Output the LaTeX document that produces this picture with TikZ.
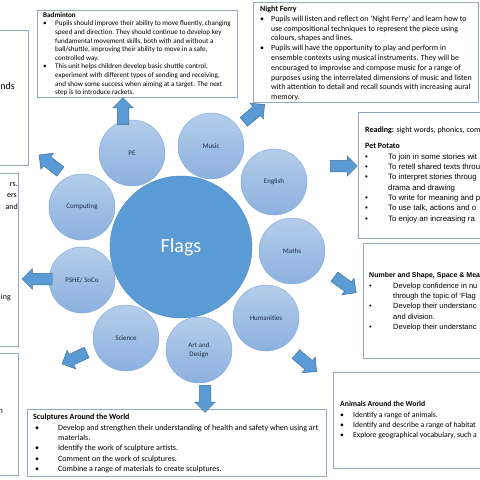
\documentclass[tikz,border=0pt]{standalone}
\usepackage{fontspec}
\setmainfont{Carlito}
\newfontfamily\arialfont{Liberation Sans}
\usetikzlibrary{shapes,arrows,positioning}
\definecolor{boxline}{HTML}{97A8BC}
\definecolor{hubfill}{HTML}{5B9BD5}
\definecolor{hubline}{HTML}{4A88C6}
\definecolor{topictop}{HTML}{B4CDEB}
\definecolor{topicbot}{HTML}{8CB0DE}
\definecolor{topicline}{HTML}{7EA5D6}
\definecolor{topictext}{HTML}{1C2B48}
\definecolor{arrfill}{HTML}{5B9BD5}
\definecolor{arrline}{HTML}{41719C}
\newcommand{\bul}{\textbullet}

\begin{document}
\begin{tikzpicture}[x=1pt, y=-1pt,
    hub/.style={circle, draw=hubline, fill=hubfill, minimum size=142pt, inner sep=0pt, font=\fontsize{20}{22}\selectfont, text=white},
    topic/.style={circle, draw=topicline, top color=topictop, bottom color=topicbot, minimum size=66pt, inner sep=0pt, align=center, font=\fontsize{7}{8.5}\selectfont, text=topictext},
    panel/.style={rectangle, draw=boxline, line width=0.9pt, fill=white, anchor=north west, inner sep=0pt},
    txt/.style={anchor=north west, inner sep=0pt, align=left},
    cut/.style={inner sep=0pt, font=\fontsize{8}{9}\selectfont},
    blockarr/.style={single arrow, draw=arrline, fill=arrfill, line width=0.5pt, minimum height=27pt, inner sep=5.5pt, single arrow head extend=4.5pt, single arrow tip angle=90}
]
\useasboundingbox (0,0) rectangle (480,480);
\fill[white] (0,0) rectangle (480,480);
\clip (0,0) rectangle (480,480);

% Left boxes
\node[panel, minimum width=48pt, minimum height=135pt] (leftA) at (-20,30) {};
\node[panel, minimum width=38pt, minimum height=173pt] (leftB) at (-20,173) {};
\node[panel, minimum width=38pt, minimum height=122pt] (leftC) at (-20,353) {};
\node[cut, anchor=east, font=\fontsize{10}{12}\selectfont] (ndsTxt) at (15,86) {nds};
\node[cut, anchor=east] (rsTxt) at (18,185) {rs.};
\node[cut, anchor=east] (ersTxt) at (17,196) {ers};
\node[cut, anchor=east] (andTxt) at (18,207) {and};
\node[cut, anchor=east] (ingTxt) at (11,297) {ing};
\node[cut, anchor=east] (nTxt) at (3,412) {n};

% Badminton
\node[panel, minimum width=200pt, minimum height=87pt] (badBox) at (37,10) {};
\node[txt, font=\fontsize{7.1}{8.6}\selectfont] (badTxt) at (43,11) {%
\begin{tabular}{@{}p{12pt}@{}l@{}}
\multicolumn{2}{@{}l@{}}{\bfseries Badminton}\\
\bul & Pupils should improve their ability to move fluently, changing\\
 & speed and direction. They should continue to develop key\\
 & fundamental movement skills, both with and without a\\
 & ball/shuttle, improving their ability to move in a safe,\\
 & controlled way.\\
\bul & This unit helps children develop basic shuttle control,\\
 & experiment with different types of sending and receiving,\\
 & and show some success when aiming at a target. The next\\
 & step is to introduce rackets.
\end{tabular}};

% Night Ferry
\node[panel, minimum width=225pt, minimum height=100pt] (ferryBox) at (253,2) {};
\node[txt, font=\fontsize{7.9}{9.8}\selectfont] (ferryTxt) at (260,4.5) {%
\begin{tabular}{@{}p{11pt}@{}l@{}}
\multicolumn{2}{@{}l@{}}{\bfseries Night Ferry}\\
\bul & Pupils will listen and reflect on ‘Night Ferry’ and learn how to\\
 & use compositional techniques to represent the piece using\\
 & colours, shapes and lines.\\
\bul & Pupils will have the opportunity to play and perform in\\
 & ensemble contexts using musical instruments. They will be\\
 & encouraged to improvise and compose music for a range of\\
 & purposes using the interrelated dimensions of music and listen\\
 & with attention to detail and recall sounds with increasing aural\\
 & memory.
\end{tabular}};

% English
\node[panel, minimum width=140pt, minimum height=126pt] (readBox) at (358,112) {};
\node[cut, anchor=west, font=\fontsize{8}{9}\selectfont] (readTxt) at (365,130) {\textbf{Reading:} sight words, phonics, com};
\node[txt, font=\arialfont\fontsize{7.8}{10.3}\selectfont] (potatoTxt) at (365,141.5) {%
\begin{tabular}{@{}p{23pt}@{}l@{}}
\multicolumn{2}{@{}l@{}}{\rmfamily\fontsize{8}{10.3}\selectfont\bfseries Pet Potato}\\
\bul & To join in some stories wit\\
\bul & To retell shared texts throu\\
\bul & To interpret stories throug\\
 & drama and drawing\\
\bul & To write for meaning and p\\
\bul & To use talk, actions and o\\
\bul & To enjoy an increasing ra
\end{tabular}};

% Maths
\node[panel, minimum width=135pt, minimum height=115pt] (mathsBox) at (363,243) {};
\node[txt, font=\arialfont\fontsize{7.5}{10.3}\selectfont] (mathsTxt) at (369,270.5) {%
\begin{tabular}{@{}p{24pt}@{}l@{}}
\multicolumn{2}{@{}l@{}}{\fontsize{7}{10.3}\selectfont\bfseries Number and Shape, Space \& Mea}\\
\bul & Develop confidence in nu\\
 & through the topic of ‘Flag\\
\bul & Develop their understanc\\
 & and division.\\
\bul & Develop their understanc
\end{tabular}};

% Humanities
\node[panel, minimum width=165pt, minimum height=96pt] (animalBox) at (333,372) {};
\node[txt, font=\fontsize{7.7}{10.3}\selectfont] (animalTxt) at (340,399.5) {%
\begin{tabular}{@{}p{13pt}@{}l@{}}
\multicolumn{2}{@{}l@{}}{\bfseries Animals Around the World}\\
\bul & Identify a range of animals.\\
\bul & Identify and describe a range of habitat\\
\bul & Explore geographical vocabulary, such a
\end{tabular}};

% Art and Design
\node[panel, minimum width=299pt, minimum height=67pt] (sculptBox) at (27,409) {};
\node[txt, font=\fontsize{8}{10.3}\selectfont] (sculptTxt) at (33,412.5) {%
\begin{tabular}{@{}p{25pt}@{}l@{}}
\multicolumn{2}{@{}l@{}}{\bfseries Sculptures Around the World}\\
\hspace*{2pt}\bul & Develop and strengthen their understanding of health and safety when using art\\
 & materials.\\
\hspace*{2pt}\bul & Identify the work of sculpture artists.\\
\hspace*{2pt}\bul & Comment on the work of sculptures.\\
\hspace*{2pt}\bul & Combine a range of materials to create sculptures.
\end{tabular}};

% Hub and topics
\node[hub] (flags) at (181,247) {Flags};
\node[topic] (pe) at (132,153) {PE};
\node[topic] (music) at (211,146) {Music};
\node[topic] (english) at (274,182) {English};
\node[topic] (maths) at (292,251) {Maths};
\node[topic] (hum) at (266,318) {Humanities};
\node[topic] (art) at (199,350) {Art and\\Design};
\node[topic] (science) at (126,338) {Science};
\node[topic] (pshe) at (82,280) {PSHE/ SoCo};
\node[topic] (computing) at (82,207) {Computing};

% Arrows
\node[blockarr, rotate=90] (peArr) at (123,114) {};
\node[blockarr, rotate=40] (musicArr) at (252,115) {};
\node[blockarr] (englishArr) at (341,166) {};
\node[blockarr, rotate=-36] (mathsArr) at (343,283) {};
\node[blockarr, rotate=-40] (humArr) at (304,361) {};
\node[blockarr, rotate=-90] (artArr) at (205,396) {};
\node[blockarr, rotate=-155] (scienceArr) at (77,357) {};
\node[blockarr, rotate=180, minimum height=30pt] (psheArr) at (40,279) {};
\node[blockarr, rotate=142] (computingArr) at (52,165) {};

\end{tikzpicture}
\end{document}
